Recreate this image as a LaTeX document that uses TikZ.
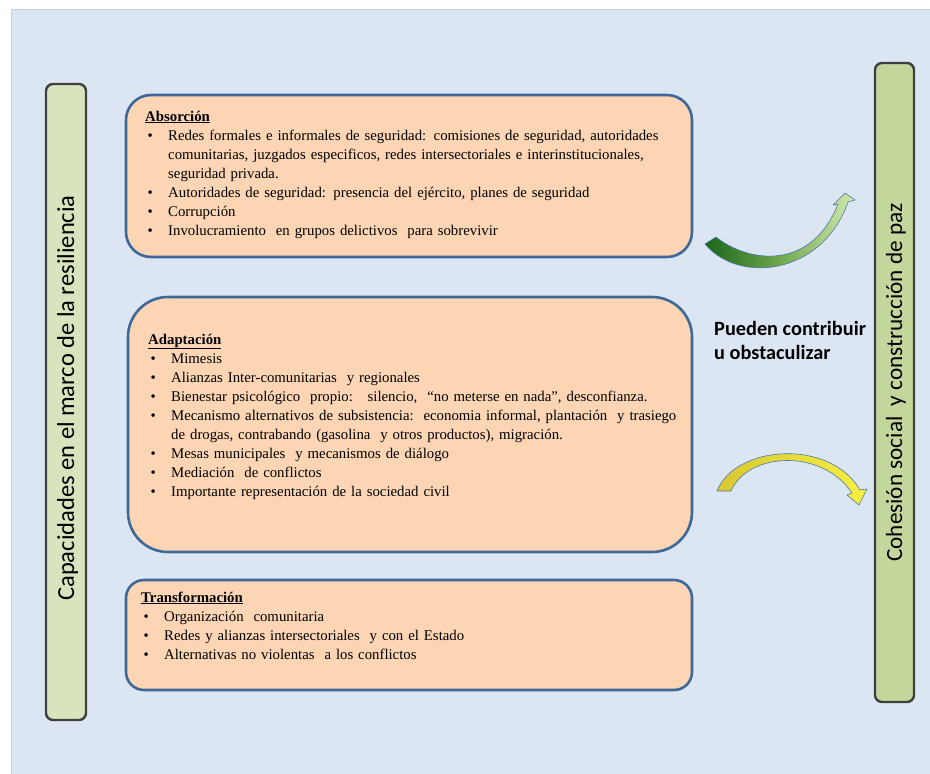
\documentclass[tikz,border=0pt]{standalone}
\usepackage{fontspec}
\setmainfont{Liberation Serif}
\newfontfamily\carl{Carlito}
\definecolor{panel}{HTML}{DCE6F2}
\definecolor{panelbd}{HTML}{C5D2E3}
\definecolor{peach}{HTML}{FCD5B4}
\definecolor{boxblue}{HTML}{3E6897}
\definecolor{barL}{HTML}{D7E4BD}
\definecolor{barR}{HTML}{C3D69B}
\definecolor{barbd}{HTML}{404040}
\definecolor{dkgreen}{HTML}{1A661A}
\definecolor{ltgreen}{HTML}{D5EAB0}
\definecolor{midgreen}{HTML}{6FA84C}
\definecolor{olive}{HTML}{D8C832}
\definecolor{cream}{HTML}{EDE6C4}
\definecolor{yel}{HTML}{F6F040}
\definecolor{arrbd}{HTML}{4A78B0}
\newcommand{\bi}{\hspace*{2.5pt}\makebox[20.5pt][l]{\textbullet}}
\newcommand{\ct}{\hspace*{23pt}}
\newcommand{\hd}[1]{\underline{\textbf{#1}}}
\begin{document}
\begin{tikzpicture}[x=1pt,y=-1pt,
  cbox/.style={draw=boxblue, line width=2.6pt, fill=peach},
  bar/.style={draw=barbd, line width=2.4pt, rounded corners=7pt},
  txt/.style={font=\fontsize{14.8}{19}\selectfont, text width=560pt, align=left, inner sep=0pt, anchor=base west},
  bartxt/.style={rotate=90, inner sep=0pt},
  arr/.style={draw=arrbd, line width=0.6pt, line join=round}]
\useasboundingbox (0,0) rectangle (930,774);
\fill[white] (0,0) rectangle (930,774);
\filldraw[fill=panel, draw=panelbd, line width=0.8pt] (11,9) rectangle (931,775);

% side bars
\node[bar, fill=barL, minimum width=40pt, minimum height=636pt] (capbar) at (66,402) {};
\node[bartxt, font=\carl\fontsize{24.5}{28}\selectfont] (captxt) at (67.5,398) {Capacidades en el marco de la resiliencia};
\node[bar, fill=barR, minimum width=39pt, minimum height=639pt] (cohbar) at (894.5,382.5) {};
\node[bartxt, font=\carl\fontsize{23.2}{26}\selectfont] (cohtxt) at (896,382.5) {Cohesión social\ \ y construcción de paz};

% content boxes
\node[cbox, rounded corners=25pt, minimum width=566pt, minimum height=162pt] (absbox) at (409,176) {};
\node[cbox, rounded corners=40pt, minimum width=564pt, minimum height=255pt] (adabox) at (410,424.5) {};
\node[cbox, rounded corners=18pt, minimum width=566pt, minimum height=110pt] (trabox) at (409,635) {};

\node[txt] (abstxt) at (145,121) {\hd{Absorción}\\
\bi Redes formales e informales de seguridad: comisiones de seguridad, autoridades\\
\ct comunitarias, juzgados especificos, redes intersectoriales e interinstitucionales,\\
\ct seguridad privada.\\
\bi Autoridades de seguridad: presencia del ejército, planes de seguridad\\
\bi Corrupción\\
\bi Involucramiento\ \ en grupos delictivos\ \ para sobrevivir};

\node[txt] (adatxt) at (148,344) {\hd{Adaptación}\\
\bi Mimesis\\
\bi Alianzas Inter-comunitarias\ \ y regionales\\
\bi Bienestar psicológico\ \ propio:\ \ \ silencio,\ \ “no meterse en nada”, desconfianza.\\
\bi Mecanismo\ alternativos de subsistencia:\ \ economia informal,\ plantación\ \ y trasiego\\
\ct de drogas, contrabando (gasolina\ \ y otros productos), migración.\\
\bi Mesas municipales\ \ y mecanismos de diálogo\\
\bi Mediación\ \ de conflictos\\
\bi Importante representación de la sociedad civil};

\node[txt] (tratxt) at (141,602) {\hd{Transformación}\\
\bi Organización\ \ comunitaria\\
\bi Redes y alianzas intersectoriales\ \ y con el Estado\\
\bi Alternativas no violentas\ \ a los conflictos};

% middle label
\node[font=\carl\bfseries\fontsize{20.3}{23.5}\selectfont, align=left, inner sep=0pt, anchor=base west] (pueden) at (714,359) {Pueden contribuir\\u obstaculizar};

% upper curved arrow (green)
\path[arr, left color=dkgreen, right color=ltgreen, middle color=midgreen]
  (705,244) .. controls (738,284) and (822,276) .. (848,202)
  -- (855,200) -- (845,193) -- (833,205) -- (838,204)
  .. controls (812,270) and (750,264) .. (716,237) -- cycle;

% lower curved arrow (yellow)
\path[arr, left color=olive, middle color=cream, right color=yel]
  (717,491) .. controls (735,445) and (830,438) .. (860,490)
  -- (867,489) -- (859,505) -- (847,495) -- (852,493)
  .. controls (822,448) and (748,452) .. (731,491) -- cycle;
\end{tikzpicture}
\end{document}
